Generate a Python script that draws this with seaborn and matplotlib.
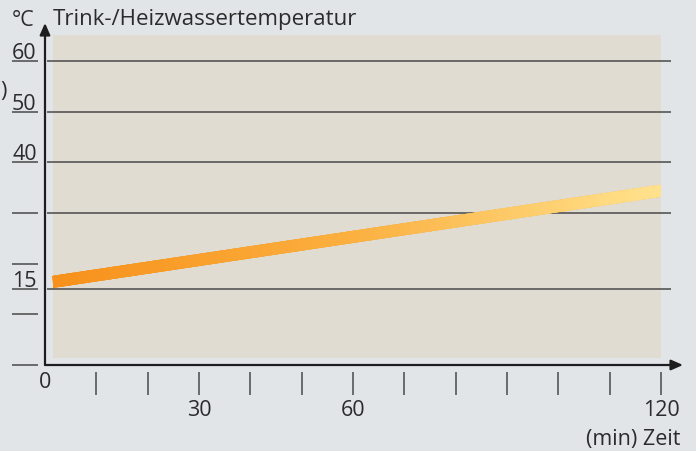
import matplotlib
matplotlib.use("Agg")
import matplotlib.pyplot as plt
import numpy as np
import pandas as pd
import seaborn as sns
from matplotlib.collections import LineCollection
from matplotlib.colors import LinearSegmentedColormap

# data
zeit_min = [1.5, 120]
temp_c = [16.4, 34.4]

y_ticks = [0, 10, 15, 20, 30, 40, 50, 60]
y_labels = {15: "15", 40: "40", 50: "50", 60: "60"}
y_grid = [15, 30, 40, 50, 60]
x_ticks = [10, 20, 30, 40, 50, 60, 70, 80, 90, 100, 110, 120]
x_labels = [30, 60, 120]

BG = "#e1e5e8"
PANEL = "#e0dcd2"
GRID = "#555555"
TXT = "#2b2b2b"
FS = 15.5

sns.set_theme(style="white")
plt.rcParams["font.family"] = ["Open Sans", "DejaVu Sans"]

W, H = 696, 452
fig = plt.figure(figsize=(W / 100, H / 100), dpi=100, facecolor=BG)
# axes box: x 0..120 -> px 45..661, y 0..60 -> px 366..62
ax = fig.add_axes([45 / W, (H - 366) / H, 616 / W, 304 / H])
ax.set_xlim(0, 120)
ax.set_ylim(0, 60)
ax.set_facecolor("none")
for s in ax.spines.values():
    s.set_visible(False)
ax.set_xticks([])
ax.set_yticks([])

px = 616 / 120  # px per minute
py = 304 / 60   # px per degree

# beige panel
ax.add_patch(plt.Rectangle((8 / px, 7 / py), 120 - 8 / px, 323 / py,
                           facecolor=PANEL, edgecolor="none", clip_on=False, zorder=0))

# grid lines
ax.hlines(y_grid, 2 / px, 626 / px, colors=GRID, lw=1.2, clip_on=False, zorder=1)

# left tick marks and labels
ax.hlines(y_ticks, -33 / px, -7 / px, colors=GRID, lw=1.2, clip_on=False, zorder=1)
for v, lab in y_labels.items():
    ax.text(-33 / px, v + 3 / py, lab, ha="left", va="baseline", fontsize=FS,
            color=TXT, clip_on=False)

# bottom tick marks and labels
ax.vlines(x_ticks, -30 / py, -7 / py, colors=GRID, lw=1.2, clip_on=False, zorder=1)
ax.text(0, -17 / py, "0", ha="center", va="center", fontsize=FS, color=TXT, clip_on=False)
for v in x_labels:
    ax.text(v, -45 / py, str(v), ha="center", va="center", fontsize=FS,
            color=TXT, clip_on=False)
ax.text(635 / px, -74 / py, "(min) Zeit", ha="right", va="center", fontsize=FS,
        color=TXT, clip_on=False)

# axes with arrows
arrow = dict(arrowstyle="-|>,head_length=0.5,head_width=0.22", lw=1.6,
             color="#1e1e1e", mutation_scale=14, shrinkA=0, shrinkB=0)
ax.annotate("", xy=(0, 342 / py), xytext=(0, 0), arrowprops=arrow,
            annotation_clip=False)
ax.annotate("", xy=(638 / px, 0), xytext=(0, 0), arrowprops=arrow,
            annotation_clip=False)

# titles
ax.text(-33 / px, 346 / py, "°C", ha="left", va="center", fontsize=FS, color=TXT,
        clip_on=False)
ax.text(8 / px, 346 / py, "Trink-/Heizwassertemperatur", ha="left", va="center",
        fontsize=16, color=TXT, clip_on=False)
fig.text(0.0, (H - 92) / H, ")", ha="left", va="center", fontsize=FS, color=TXT)

# temperature line (seaborn), then gradient overlay
df = pd.DataFrame({"Zeit": zeit_min, "Temp": temp_c})
sns.lineplot(data=df, x="Zeit", y="Temp", ax=ax, color="#f7941d", lw=8.6,
             solid_capstyle="butt", zorder=3)
ax.set_xlabel("")
ax.set_ylabel("")

cmap = LinearSegmentedColormap.from_list("warm", ["#f7901a", "#fbb040", "#ffe18b"])
t = np.linspace(0, 1, 120)
xs = zeit_min[0] + t * (zeit_min[1] - zeit_min[0])
ys = temp_c[0] + t * (temp_c[1] - temp_c[0])
pts = np.column_stack([xs, ys]).reshape(-1, 1, 2)
segs = np.concatenate([pts[:-1], pts[1:]], axis=1)
lc = LineCollection(segs, cmap=cmap, lw=8.6, capstyle="projecting", zorder=4)
lc.set_array(t[:-1])
ax.add_collection(lc)
clip = plt.Rectangle((zeit_min[0], -10), zeit_min[1] - zeit_min[0], 80,
                     transform=ax.transData)
lc.set_clip_path(clip)

fig.savefig("out.png", dpi=100, facecolor=BG)
